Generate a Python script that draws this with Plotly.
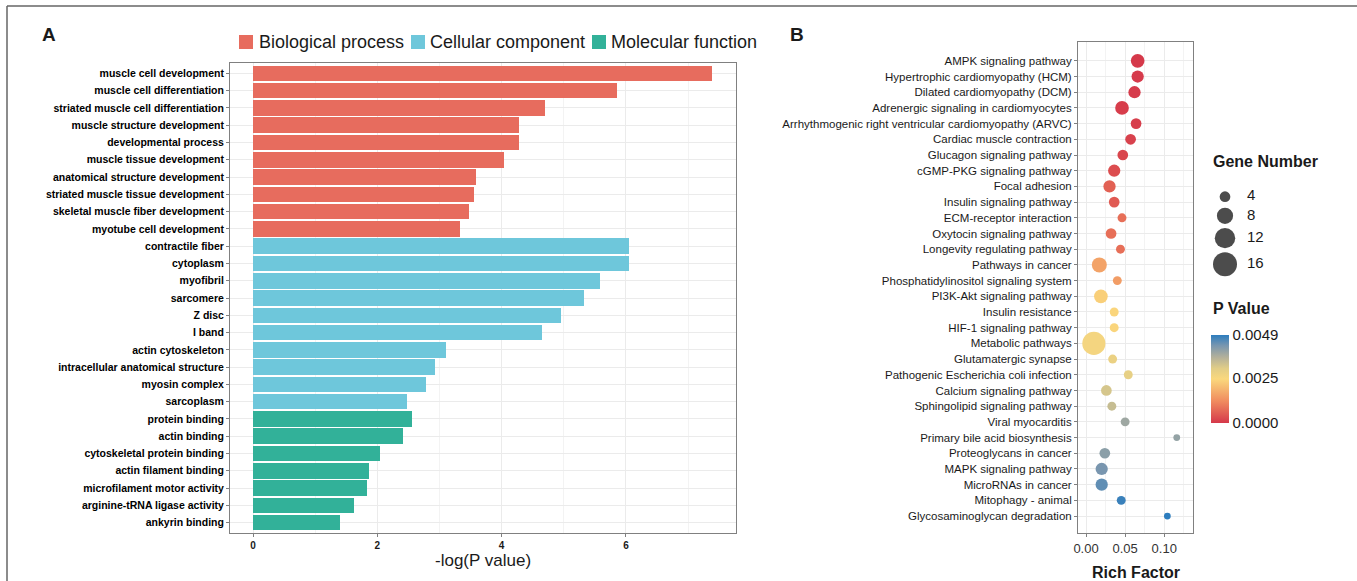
import numpy as np
import plotly.graph_objects as go

W, H = 1357, 581

# ---------------- Panel A data ----------------
go_terms = [
    "muscle cell development", "muscle cell differentiation",
    "striated muscle cell differentiation", "muscle structure development",
    "developmental process", "muscle tissue development",
    "anatomical structure development", "striated muscle tissue development",
    "skeletal muscle fiber development", "myotube cell development",
    "contractile fiber", "cytoplasm", "myofibril", "sarcomere", "Z disc",
    "I band", "actin cytoskeleton", "intracellular anatomical structure",
    "myosin complex", "sarcoplasm", "protein binding", "actin binding",
    "cytoskeletal protein binding", "actin filament binding",
    "microfilament motor activity", "arginine-tRNA ligase activity",
    "ankyrin binding",
]
go_values = [7.39, 5.86, 4.70, 4.28, 4.28, 4.03, 3.59, 3.56, 3.48, 3.33,
             6.05, 6.05, 5.59, 5.33, 4.95, 4.65, 3.10, 2.92, 2.78, 2.47,
             2.55, 2.41, 2.04, 1.87, 1.84, 1.63, 1.40]
go_groups = (["Biological process"] * 10 + ["Cellular component"] * 10
             + ["Molecular function"] * 7)
group_names = ["Biological process", "Cellular component", "Molecular function"]
group_colors = ["#E76C5E", "#6EC7DB", "#32B199"]
a_ticks = [0, 2, 4, 6]

# ---------------- Panel B data ----------------
pathways = [
    "AMPK signaling pathway", "Hypertrophic cardiomyopathy (HCM)",
    "Dilated cardiomyopathy (DCM)", "Adrenergic signaling in cardiomyocytes",
    "Arrhythmogenic right ventricular cardiomyopathy (ARVC)",
    "Cardiac muscle contraction", "Glucagon signaling pathway",
    "cGMP-PKG signaling pathway", "Focal adhesion", "Insulin signaling pathway",
    "ECM-receptor interaction", "Oxytocin signaling pathway",
    "Longevity regulating pathway", "Pathways in cancer",
    "Phosphatidylinositol signaling system", "PI3K-Akt signaling pathway",
    "Insulin resistance", "HIF-1 signaling pathway", "Metabolic pathways",
    "Glutamatergic synapse", "Pathogenic Escherichia coli infection",
    "Calcium signaling pathway", "Sphingolipid signaling pathway",
    "Viral myocarditis", "Primary bile acid biosynthesis",
    "Proteoglycans in cancer", "MAPK signaling pathway", "MicroRNAs in cancer",
    "Mitophagy - animal", "Glycosaminoglycan degradation",
]
rich_factor = [0.066, 0.066, 0.062, 0.046, 0.064, 0.057, 0.047, 0.036, 0.030,
               0.036, 0.046, 0.032, 0.044, 0.017, 0.040, 0.019, 0.036, 0.036,
               0.010, 0.034, 0.054, 0.026, 0.033, 0.050, 0.116, 0.024, 0.020,
               0.020, 0.045, 0.104]
gene_number = [6, 5, 5, 6, 4, 4, 4, 5, 5, 4, 3, 4, 3, 7, 3, 6, 3, 3, 15, 3,
               3, 4, 3, 3, 2, 4, 5, 5, 3, 2]
p_values = [0.00002, 0.00003, 0.00005, 0.00008, 0.00010, 0.00015, 0.00020,
            0.00030, 0.00060, 0.00050, 0.00080, 0.00080, 0.00080, 0.00160,
            0.00150, 0.00230, 0.00240, 0.00240, 0.00260, 0.00280, 0.00290,
            0.00320, 0.00340, 0.00390, 0.00400, 0.00410, 0.00430, 0.00450,
            0.00480, 0.00490]
b_ticks = [0.00, 0.05, 0.10]
b_tick_text = ["0.00", "0.05", "0.10"]
size_legend_values = [4, 8, 12, 16]
p_tick_vals = [0.0, 0.0025, 0.0049]
p_tick_text = ["0.0000", "0.0025", "0.0049"]

p_colorscale = [
    [0.00, "rgb(213,56,74)"],
    [0.25, "rgb(240,140,95)"],
    [0.50, "rgb(250,216,125)"],
    [0.62, "rgb(225,205,135)"],
    [0.75, "rgb(178,176,155)"],
    [0.88, "rgb(120,150,175)"],
    [1.00, "rgb(45,125,190)"],
]


def size_px(n):
    n = np.asarray(n, dtype=float)
    return 6.65 * np.sqrt(n) - 2.6


def px_x(p):
    return p / W


def px_y(p):
    return 1 - p / H


FONT = "Liberation Sans, Arial, sans-serif"
GRID = "#EBEBEB"
MINOR = "#F3F3F3"
BORDER = "#808080"

fig = go.Figure()

# Panel A bars
for name, col in zip(group_names, group_colors):
    ys = [t for t, g in zip(go_terms, go_groups) if g == name]
    xs = [v for v, g in zip(go_values, go_groups) if g == name]
    fig.add_trace(go.Bar(x=xs, y=ys, orientation="h", width=0.9,
                         marker=dict(color=col, line=dict(width=0)),
                         name=name, showlegend=False,
                         xaxis="x", yaxis="y"))

# Panel B dots
fig.add_trace(go.Scatter(
    x=rich_factor, y=pathways, mode="markers", xaxis="x2", yaxis="y2",
    showlegend=False,
    marker=dict(size=size_px(gene_number), color=p_values,
                colorscale=p_colorscale, cmin=0, cmax=0.0049,
                line=dict(width=0), opacity=1,
                showscale=True,
                colorbar=dict(
                    thickness=18, len=88, lenmode="pixels",
                    x=px_x(1211), xanchor="left", xpad=0,
                    y=px_y(379), yanchor="middle", ypad=0,
                    outlinewidth=0, tickvals=p_tick_vals,
                    ticktext=p_tick_text, ticks="",
                    tickfont=dict(family=FONT, size=15, color="#1a1a1a"),
                )),
))

# Size legend (Gene Number)
d_leg = size_px(size_legend_values)
key_h = np.maximum(18, d_leg + 4)
centers = [196.7]
for i in range(1, len(key_h)):
    centers.append(centers[-1] + (key_h[i - 1] + key_h[i]) / 2)
fig.add_trace(go.Scatter(
    x=[1225] * len(size_legend_values), y=centers, mode="markers",
    xaxis="x3", yaxis="y3", showlegend=False, hoverinfo="skip",
    marker=dict(size=d_leg, color="black", line=dict(width=0))))
fig.add_trace(go.Scatter(
    x=[1247] * len(size_legend_values), y=centers, mode="text",
    text=[str(v) for v in size_legend_values], textposition="middle right",
    textfont=dict(family=FONT, size=15, color="#1a1a1a"),
    xaxis="x3", yaxis="y3", showlegend=False, hoverinfo="skip"))

axis_common = dict(showline=True, mirror=True, linecolor=BORDER, linewidth=1,
                   ticks="outside", ticklen=3, tickcolor=BORDER,
                   zeroline=False, automargin=False, showgrid=True,
                   gridcolor=GRID, gridwidth=1)

fig.update_layout(
    width=W, height=H, template="none",
    margin=dict(l=0, r=0, t=0, b=0, pad=0),
    paper_bgcolor="white", plot_bgcolor="white",
    bargap=0, barmode="overlay",
    xaxis=dict(domain=[px_x(230), px_x(736)], anchor="y",
               range=[-0.37, 7.77], tickvals=a_ticks,
               ticktext=[str(t) for t in a_ticks],
               minor=dict(tickvals=[1, 3, 5, 7], showgrid=True,
                          gridcolor=MINOR, ticks=""),
               tickfont=dict(family=FONT, size=10, color="#1a1a1a",
                             weight="bold"),
               **axis_common),
    yaxis=dict(domain=[px_y(533), px_y(63)], anchor="x", type="category",
               categoryorder="array", categoryarray=go_terms,
               range=[26.6, -0.6],
               tickfont=dict(family=FONT, size=10.5, color="black",
                             weight="bold"),
               **axis_common),
    xaxis2=dict(domain=[px_x(1078), px_x(1193)], anchor="y2",
                range=[-0.0103, 0.1368], tickvals=b_ticks,
                ticktext=b_tick_text,
                minor=dict(tickvals=[0.025, 0.075, 0.125], showgrid=True,
                           gridcolor=MINOR, ticks=""),
                tickfont=dict(family=FONT, size=13, color="#333333"),
                **axis_common),
    yaxis2=dict(domain=[px_y(533), px_y(42)], anchor="x2", type="category",
                categoryorder="array", categoryarray=pathways,
                range=[29 + 1.08, -1.2],
                tickfont=dict(family=FONT, size=11.5, color="#1a1a1a"),
                **axis_common),
    xaxis3=dict(domain=[px_x(1200), px_x(1320)], anchor="y3",
                range=[1200, 1320], visible=False, fixedrange=True),
    yaxis3=dict(domain=[px_y(290), px_y(180)], anchor="x3",
                range=[290, 180], visible=False, fixedrange=True),
)

# Manual legend for panel A
leg_items = [(239, 257), (411, 428), (592, 609)]
shapes = []
annotations = []
for (sx, tx), name, col in zip(leg_items, group_names, group_colors):
    shapes.append(dict(type="rect", xref="paper", yref="paper",
                       x0=px_x(sx), x1=px_x(sx + 14),
                       y0=px_y(49), y1=px_y(35),
                       fillcolor=col, line=dict(width=0)))
    annotations.append(dict(text=name, xref="paper", yref="paper",
                            x=px_x(tx), y=px_y(42), xanchor="left",
                            yanchor="middle", showarrow=False,
                            font=dict(family=FONT, size=18, color="#1a1a1a")))

# Figure frame (top and left edges visible in the reference)
shapes.append(dict(type="line", xref="paper", yref="paper",
                   x0=px_x(7), x1=1, y0=px_y(6), y1=px_y(6),
                   line=dict(color="#666666", width=1.5), layer="below"))
shapes.append(dict(type="line", xref="paper", yref="paper",
                   x0=px_x(7), x1=px_x(7), y0=0, y1=px_y(6),
                   line=dict(color="#666666", width=1.5), layer="below"))


def label(text, x, y, size, bold=False, xanchor="center"):
    f = dict(family=FONT, size=size, color="#1a1a1a")
    if bold:
        f["weight"] = "bold"
    return dict(text=text, x=px_x(x), y=px_y(y), xref="paper", yref="paper",
                showarrow=False, xanchor=xanchor, yanchor="middle", font=f)


annotations += [
    label("A", 49, 35, 19, bold=True),
    label("B", 797, 35, 19, bold=True),
    label("-log(P value)", 483, 560, 17),
    label("Rich Factor", 1136, 572, 16, bold=True),
    label("Gene Number", 1211, 161, 16, bold=True, xanchor="left"),
    label("P Value", 1211, 308, 16, bold=True, xanchor="left"),
]
fig.update_layout(shapes=shapes, annotations=annotations)

fig.write_html(
    "out.html",
    config={"displayModeBar": False},
    post_script="document.body.style.margin='0';"
                "document.body.style.overflow='hidden';",
)
